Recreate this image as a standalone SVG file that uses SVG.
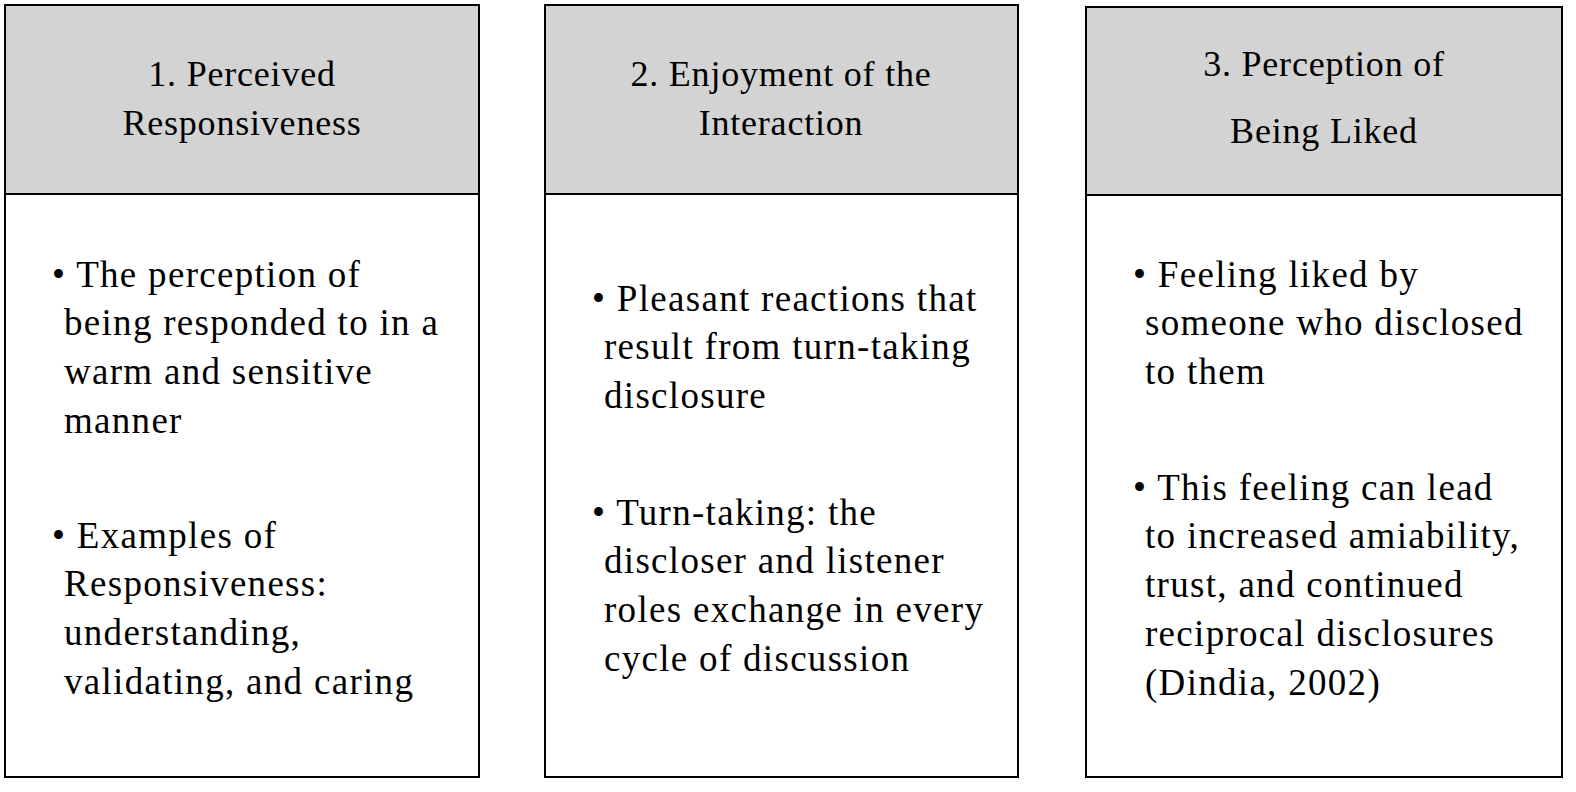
<svg xmlns="http://www.w3.org/2000/svg" width="1576" height="792" viewBox="0 0 1576 792">
<style>
.box{fill:#fff;stroke:#000;stroke-width:2}
.hd{fill:#d3d3d3;stroke:#000;stroke-width:2}
text{font-family:"Liberation Serif","Noto Serif",serif;font-size:37px;letter-spacing:1.3px;fill:#000}
.c{text-anchor:middle;font-size:36px;letter-spacing:0.8px}
</style>
<rect width="1576" height="792" fill="#fff"/>
<g id="node1">
<rect class="box" x="5" y="5" width="474" height="772"/>
<rect class="hd" x="5" y="5" width="474" height="189"/>
<text class="c" x="242" y="86">1. Perceived</text>
<text class="c" x="242" y="135">Responsiveness</text>
<text x="52" y="287">• The perception of</text>
<text x="64" y="335">being responded to in a</text>
<text x="64" y="384">warm and sensitive</text>
<text x="64" y="433">manner</text>
<text x="52" y="548">• Examples of</text>
<text x="64" y="596">Responsiveness:</text>
<text x="64" y="645">understanding,</text>
<text x="64" y="694">validating, and caring</text>
</g>
<g id="node2">
<rect class="box" x="545" y="5" width="473" height="772"/>
<rect class="hd" x="545" y="5" width="473" height="189"/>
<text class="c" x="781" y="86">2. Enjoyment of the</text>
<text class="c" x="781" y="135">Interaction</text>
<text x="592" y="311">• Pleasant reactions that</text>
<text x="604" y="359">result from turn-taking</text>
<text x="604" y="408">disclosure</text>
<text x="592" y="525">• Turn-taking: the</text>
<text x="604" y="573">discloser and listener</text>
<text x="604" y="622">roles exchange in every</text>
<text x="604" y="671">cycle of discussion</text>
</g>
<g id="node3">
<rect class="box" x="1086" y="7" width="476" height="770"/>
<rect class="hd" x="1086" y="7" width="476" height="188"/>
<text class="c" x="1324" y="76">3. Perception of</text>
<text class="c" x="1324" y="143">Being Liked</text>
<text x="1133" y="287">• Feeling liked by</text>
<text x="1145" y="335">someone who disclosed</text>
<text x="1145" y="384">to them</text>
<text x="1133" y="500">• This feeling can lead</text>
<text x="1145" y="548">to increased amiability,</text>
<text x="1145" y="597">trust, and continued</text>
<text x="1145" y="646">reciprocal disclosures</text>
<text x="1145" y="695">(Dindia, 2002)</text>
</g>
<g id="connectors"/>
</svg>
